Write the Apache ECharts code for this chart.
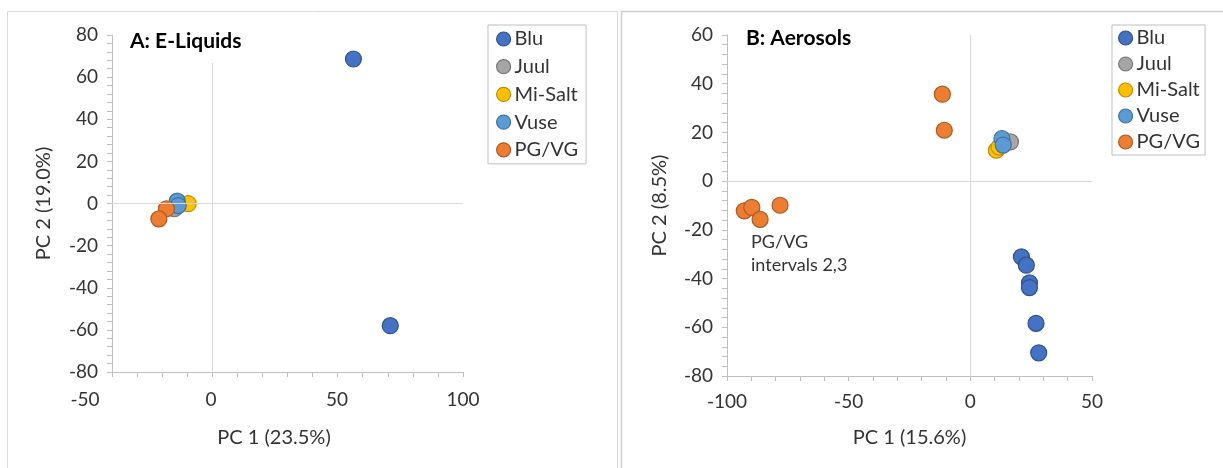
<!DOCTYPE html>
<html>
<head>
<meta charset="utf-8">
<script src="https://cdn.jsdelivr.net/npm/echarts@6/dist/echarts.min.js"></script>
<style>
    html, body { margin: 0; padding: 0; background: #fff; }
    #chart { width: 1223px; height: 468px; }
</style>
</head>
<body>
<div id="chart"></div>
<script>
// group names and colours (fill, border)
const groups = ['Blu', 'Juul', 'Mi-Salt', 'Vuse', 'PG/VG'];
const fills = ['#4472C4', '#A5A5A5', '#FFC000', '#5B9BD5', '#ED7D31'];
const borders = ['#2F528F', '#787878', '#BC8C00', '#41719C', '#AE5A21'];

// A: E-Liquids  [PC1, PC2]
const liqBlu = [[56.3, 68.6], [71.0, -58.0]];
const liqJuul = [[-15.1, -2.4]];
const liqMiSalt = [[-9.6, -0.1]];
const liqVuse = [[-14.0, 1.1], [-13.6, -1.0]];
const liqPgvg = [[-18.3, -2.5], [-21.3, -7.3]];

// B: Aerosols  [PC1, PC2]
const aeroBlu = [[21.0, -31.1], [23.0, -34.5], [24.3, -41.8], [24.3, -43.7], [27.0, -58.4], [28.1, -70.5]];
const aeroJuul = [[16.5, 16.1]];
const aeroMiSalt = [[10.7, 12.7], [11.8, 14.0]];
const aeroVuse = [[13.0, 17.5], [13.5, 14.8]];
const aeroPgvg = [[-11.5, 35.7], [-10.7, 20.9], [-92.9, -12.2], [-89.8, -10.8], [-86.4, -15.7], [-78.2, -9.9]];

const liquids = [liqBlu, liqJuul, liqMiSalt, liqVuse, liqPgvg];
const aerosols = [aeroBlu, aeroJuul, aeroMiSalt, aeroVuse, aeroPgvg];

const font = 'Lato, "Open Sans", sans-serif';
const textColor = '#333';
const lineColor = '#bfbfbf';
const zeroColor = '#d9d9d9';

function axisBase() {
    return {
        type: 'value',
        splitLine: { show: false },
        axisLine: { show: true, onZero: false, lineStyle: { color: lineColor } },
        axisTick: { show: true, length: 5, lineStyle: { color: lineColor } },
        minorTick: { show: true, splitNumber: 5, length: 5, lineStyle: { color: lineColor } },
        axisLabel: { color: textColor, fontFamily: font, fontSize: 19, margin: 14 },
        nameTextStyle: { color: textColor, fontFamily: font, fontSize: 20 }
    };
}

function zeroLines() {
    return {
        silent: true,
        symbol: ['none', 'none'],
        label: { show: false },
        lineStyle: { color: zeroColor, width: 1, type: 'solid' },
        data: [{ xAxis: 0 }, { yAxis: 0 }]
    };
}

function makeSeries(sets, xi, yi) {
    return sets.map((d, i) => ({
        name: groups[i],
        type: 'scatter',
        xAxisIndex: xi,
        yAxisIndex: yi,
        symbol: 'circle',
        symbolSize: 16,
        itemStyle: { color: fills[i], borderColor: borders[i], borderWidth: 1.2, opacity: 1 },
        emphasis: { disabled: true },
        data: d,
        markLine: i === 0 ? zeroLines() : undefined
    }));
}

function legendAt(left, top, gap, pad) {
    return {
        orient: 'vertical',
        left: left,
        top: top,
        data: groups.map((g, i) => ({
            name: g,
            itemStyle: { color: fills[i], borderColor: borders[i], borderWidth: 1.2 }
        })),
        icon: 'circle',
        itemWidth: 14,
        itemHeight: 14,
        itemGap: gap,
        padding: pad,
        borderColor: lineColor,
        borderWidth: 1,
        selectedMode: false,
        textStyle: { color: textColor, fontFamily: font, fontSize: 20, lineHeight: 20, padding: [0, 0, 0, -1] }
    };
}

const chart = echarts.init(document.getElementById('chart'), null, { renderer: 'canvas' });

chart.setOption({
    animation: false,
    backgroundColor: '#fff',
    graphic: [
        { type: 'rect', shape: { x: 7.5, y: 11.5, width: 610, height: 480 }, style: { fill: 'none', stroke: '#d9d9d9', lineWidth: 1 }, silent: true },
        { type: 'rect', shape: { x: 621.5, y: 11.5, width: 640, height: 480 }, style: { fill: 'none', stroke: '#d0d0d0', lineWidth: 1.5 }, silent: true }
    ],
    title: [
        {
            text: 'A: E-Liquids', left: 120, top: 23,
            backgroundColor: '#fff', padding: [8, 10, 11, 10],
            textStyle: { fontFamily: font, fontSize: 21, fontWeight: 'bold', color: '#000' }
        },
        {
            text: 'B: Aerosols', left: 736, top: 20,
            padding: [8, 10, 8, 10],
            textStyle: { fontFamily: font, fontSize: 21, fontWeight: 'bold', color: '#000' }
        },
        {
            text: 'PG/VG\nintervals 2,3', left: 751, top: 231,
            padding: 0,
            textStyle: { fontFamily: font, fontSize: 18, fontWeight: 'normal', color: textColor, lineHeight: 23 }
        }
    ],
    legend: [
        legendAt(488, 25, 7.7, [4, 8, 4, 8]),
        legendAt(1112, 25, 6, [3, 5, 3, 6])
    ],
    grid: [
        { left: 112, top: 35, width: 351, height: 337 },
        { left: 85, top: 35, width: 378, height: 337 },
        { left: 727, top: 35, width: 365, height: 341 }
    ],
    xAxis: [
        Object.assign(axisBase(), {
            gridIndex: 0, min: -40, max: 100, interval: 10,
            axisLabel: { show: false },
            minorTick: { show: false }
        }),
        Object.assign(axisBase(), {
            gridIndex: 1, min: -50, max: 100, interval: 50,
            axisLine: { show: false },
            axisTick: { show: false },
            minorTick: { show: false },
            axisLabel: { color: textColor, fontFamily: font, fontSize: 19, margin: 18 },
            name: 'PC 1 (23.5%)', nameLocation: 'middle', nameGap: 56
        }),
        Object.assign(axisBase(), {
            gridIndex: 2, min: -100, max: 50, interval: 50,
            axisLabel: { color: textColor, fontFamily: font, fontSize: 19, margin: 16 },
            name: 'PC 1 (15.6%)', nameLocation: 'middle', nameGap: 52
        })
    ],
    yAxis: [
        Object.assign(axisBase(), {
            gridIndex: 0, min: -80, max: 80, interval: 20,
            name: 'PC 2 (19.0%)', nameLocation: 'middle', nameGap: 58
        }),
        Object.assign(axisBase(), {
            gridIndex: 1, min: -80, max: 80, show: false
        }),
        Object.assign(axisBase(), {
            gridIndex: 2, min: -80, max: 60, interval: 20,
            name: 'PC 2 (8.5%)', nameLocation: 'middle', nameGap: 57
        })
    ],
    series: makeSeries(liquids, 0, 0).concat(makeSeries(aerosols, 2, 2))
});
</script>
</body>
</html>
